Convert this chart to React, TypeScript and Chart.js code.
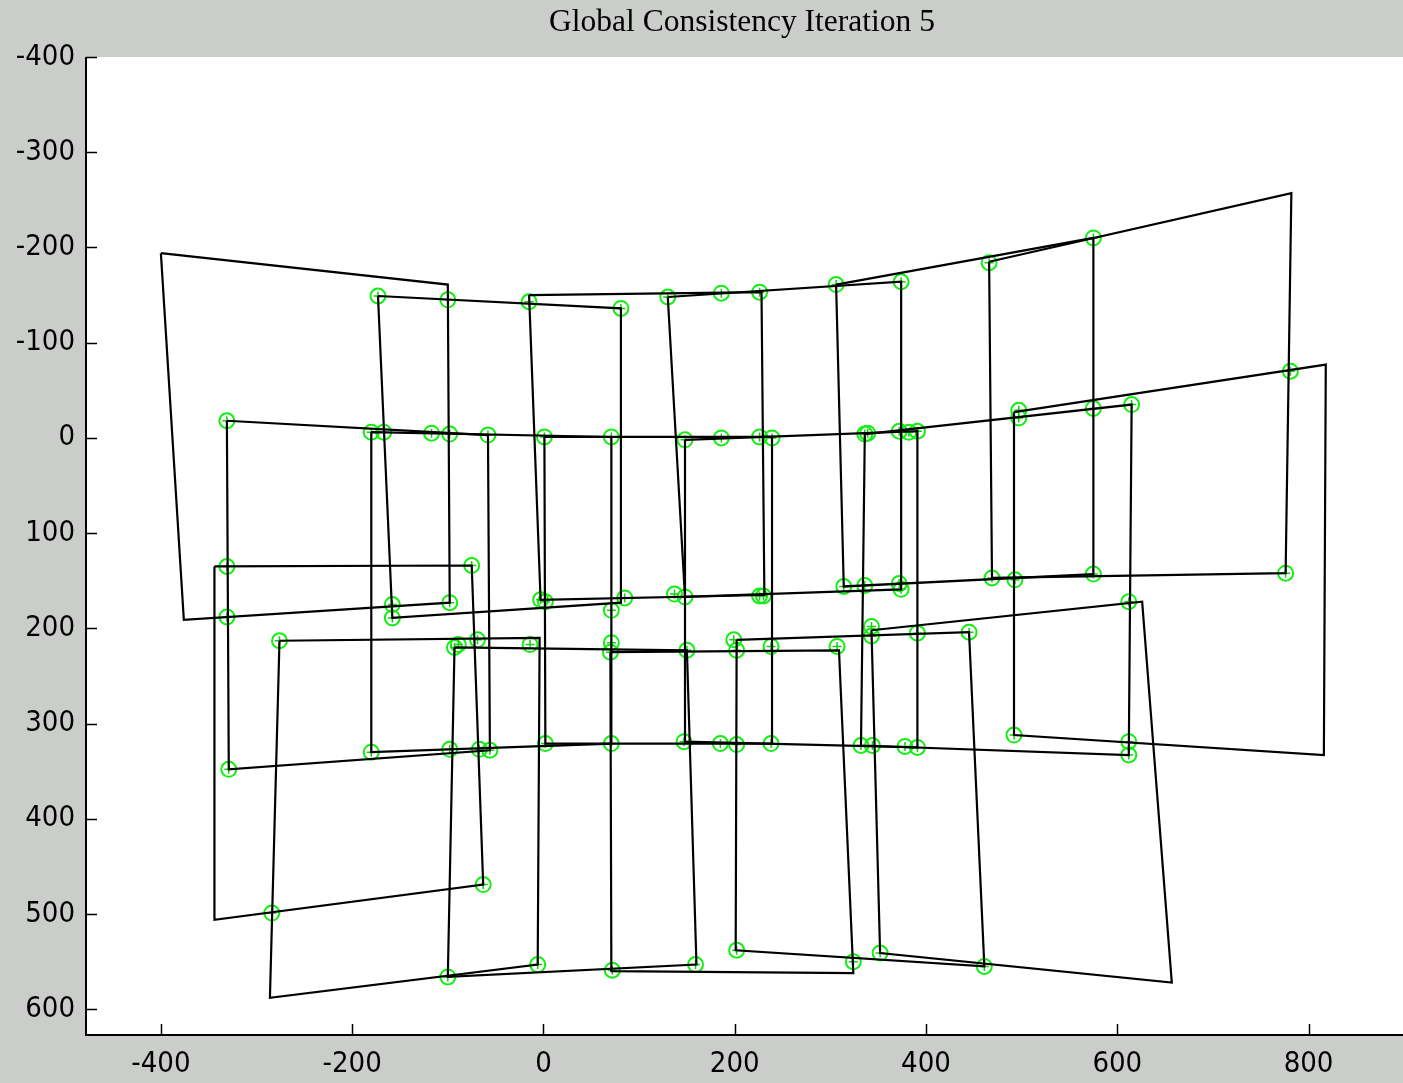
import React, { useEffect, useRef } from 'react';
import { Chart, registerables } from 'chart.js';

Chart.register(...registerables);

const W = 1403;
const H = 1083;

const titleText = 'Global Consistency Iteration 5';
const xTicks = [-400, -200, 0, 200, 400, 600, 800];
const yTicks = [-400, -300, -200, -100, 0, 100, 200, 300, 400, 500, 600];

// image frame outlines (4 corners each), data units
const row1Frames: number[][][] = [
  [[-400, -194], [-100, -161], [-98, 173], [-376, 191]],
  [[-173, -149], [81, -136], [81, 173], [-158, 189]],
  [[-15, -150], [228, -153], [231, 165], [-3, 170]],
  [[130, -148], [374, -164], [374, 159], [148, 167]],
  [[306, -161], [575, -210], [575, 143], [314, 156]],
  [[466, -185], [782, -257], [776, 142], [469, 147]],
];
const row2Frames: number[][][] = [
  [[-331, -18], [-58, -3], [-56, 328], [-329, 348]],
  [[-180, -6], [71, -1], [71, 321], [-180, 330]],
  [[1, -1], [239, -1], [239, 321], [2, 321]],
  [[148, 2], [391, -7], [391, 325], [147, 319]],
  [[336, -4], [615, -35], [612, 333], [332, 323]],
  [[492, -27], [818, -77], [816, 333], [492, 312]],
];
const row3Frames: number[][][] = [
  [[-344, 135], [-75, 134], [-63, 469], [-344, 506]],
  [[-276, 213], [-4, 210], [-6, 553], [-286, 588]],
  [[-93, 220], [150, 223], [160, 553], [-100, 566]],
  [[70, 225], [309, 223], [324, 562], [71, 560]],
  [[202, 212], [445, 204], [461, 555], [201, 538]],
  [[343, 202], [626, 172], [657, 572], [352, 541]],
];

// matched feature points
const pointsTop: number[][] = [
  [-173, -149], [-100, -145], [-15, -143], [81, -136], [130, -148], [186, -152],
  [226, -153], [306, -161], [374, -164], [466, -184], [575, -210],
];
const pointsRow2Top: number[][] = [
  [-331, -18], [-180, -6], [-167, -6], [-117, -5], [-98, -4], [-58, -3], [1, -1],
  [71, -1], [148, 2], [186, 0], [226, -1], [239, 0], [336, -4], [339, -5], [372, -7],
  [382, -6], [391, -7], [497, -29], [497, -21], [575, -31], [615, -35], [781, -70],
];
const pointsMid: number[][] = [
  [-331, 135], [-75, 134], [-331, 188], [-158, 175], [-158, 189], [-98, 173], [-3, 170],
  [2, 172], [71, 181], [85, 168], [137, 164], [148, 167], [226, 166], [230, 166],
  [314, 156], [336, 155], [372, 153], [374, 159], [469, 147], [493, 149], [575, 143],
  [612, 172], [776, 142],
];
const pointsRow3Top: number[][] = [
  [-276, 213], [-93, 220], [-89, 217], [-69, 212], [-14, 217], [71, 215], [70, 225],
  [150, 223], [199, 212], [202, 223], [238, 219], [307, 219], [343, 198], [343, 208],
  [391, 205], [445, 204],
];
const pointsRow2Bottom: number[][] = [
  [-329, 348], [-180, 330], [-98, 327], [-67, 327], [-56, 328], [2, 321], [71, 321],
  [147, 319], [185, 321], [202, 322], [238, 321], [332, 323], [344, 323], [378, 324],
  [391, 325], [492, 312], [612, 319], [612, 333],
];
const pointsBottom: number[][] = [
  [-63, 469], [-284, 499], [-100, 566], [-6, 553], [72, 559], [159, 553], [202, 538],
  [324, 550], [352, 541], [461, 555],
];

const X_MIN = -478.3;
const X_MAX = 888.8;
const Y_MIN = -400;
const Y_MAX = 627;

const tickFont = '"Liberation Sans Narrow", "DejaVu Sans Condensed", "Arial Narrow", sans-serif';

export default function App() {
  const ref = useRef<HTMLCanvasElement | null>(null);

  useEffect(() => {
    document.body.style.margin = '0';
    const canvas = ref.current;
    if (!canvas) return;

    const frames = [...row1Frames, ...row2Frames, ...row3Frames];
    const points = [
      ...pointsTop, ...pointsRow2Top, ...pointsMid,
      ...pointsRow3Top, ...pointsRow2Bottom, ...pointsBottom,
    ].map(([x, y]) => ({ x, y }));

    const frameSets: any[] = frames.map((f) => ({
      type: 'line',
      data: [...f, f[0]].map(([x, y]) => ({ x, y })),
      borderColor: '#000000',
      borderWidth: 2.2,
      pointRadius: 0,
      fill: false,
      tension: 0,
      showLine: true,
      order: 0,
    }));

    const markerSets: any[] = [
      {
        type: 'scatter',
        data: points,
        pointStyle: 'circle',
        pointRadius: 7.5,
        pointBorderWidth: 2,
        pointBorderColor: '#12ee12',
        pointBackgroundColor: 'rgba(0,0,0,0)',
        order: 2,
      },
      {
        type: 'scatter',
        data: points,
        pointStyle: 'cross',
        pointRadius: 4.5,
        pointBorderWidth: 1.5,
        pointBorderColor: '#10d010',
        order: 1,
      },
    ];

    const bgPlugin = {
      id: 'bgPlugin',
      beforeDraw(chart: any) {
        const { ctx, chartArea: a } = chart;
        ctx.save();
        ctx.fillStyle = '#cbcdcb';
        ctx.fillRect(0, 0, W, H);
        ctx.fillStyle = '#ffffff';
        ctx.fillRect(a.left, a.top, W - a.left, a.bottom - a.top);
        ctx.restore();
      },
      afterDraw(chart: any) {
        const { ctx, chartArea: a, scales } = chart;
        ctx.save();
        ctx.strokeStyle = '#000';
        ctx.lineWidth = 2;
        ctx.beginPath();
        ctx.moveTo(a.left, a.top);
        ctx.lineTo(a.left, a.bottom);
        ctx.lineTo(W, a.bottom);
        ctx.stroke();
        ctx.lineWidth = 1.5;
        ctx.beginPath();
        xTicks.forEach((v) => {
          const px = Math.round(scales.x.getPixelForValue(v)) + 0.5;
          ctx.moveTo(px, a.bottom);
          ctx.lineTo(px, a.bottom - 11);
        });
        yTicks.forEach((v) => {
          const py = Math.round(scales.y.getPixelForValue(v)) + 0.5;
          ctx.moveTo(a.left, py);
          ctx.lineTo(a.left + 11, py);
        });
        ctx.stroke();
        ctx.fillStyle = '#000';
        ctx.font = '31.5px "Liberation Serif", "Times New Roman", serif';
        ctx.textAlign = 'center';
        ctx.textBaseline = 'middle';
        ctx.fillText(titleText, 742, 23);
        ctx.restore();
      },
    };

    const chart = new Chart(canvas, {
      type: 'scatter',
      data: { datasets: [...frameSets, ...markerSets] },
      options: {
        responsive: false,
        animation: false,
        devicePixelRatio: 1,
        layout: { padding: { top: 57, left: 0, right: 0, bottom: 0 } },
        plugins: {
          legend: { display: false },
          tooltip: { enabled: false },
          title: { display: false },
        },
        scales: {
          x: {
            type: 'linear',
            min: X_MIN,
            max: X_MAX,
            afterBuildTicks: (s: any) => {
              s.ticks = xTicks.map((v) => ({ value: v }));
            },
            afterFit: (s: any) => {
              s.height = 48;
            },
            grid: { display: false, drawTicks: false },
            border: { display: false },
            ticks: {
              color: '#000',
              font: { family: tickFont, size: 29 },
              padding: 12,
              maxRotation: 0,
              autoSkip: false,
            },
          },
          y: {
            type: 'linear',
            reverse: true,
            min: Y_MIN,
            max: Y_MAX,
            afterBuildTicks: (s: any) => {
              s.ticks = yTicks.map((v) => ({ value: v }));
            },
            afterFit: (s: any) => {
              s.width = 86;
            },
            grid: { display: false, drawTicks: false },
            border: { display: false },
            ticks: {
              color: '#000',
              font: { family: tickFont, size: 29 },
              padding: 11,
              autoSkip: false,
            },
          },
        },
      },
      plugins: [bgPlugin],
    } as any);

    return () => chart.destroy();
  }, []);

  return (
    <div style={{ position: 'fixed', left: 0, top: 0, width: W, height: H }}>
      <canvas ref={ref} width={W} height={H} style={{ width: W, height: H, display: 'block' }} />
    </div>
  );
}
